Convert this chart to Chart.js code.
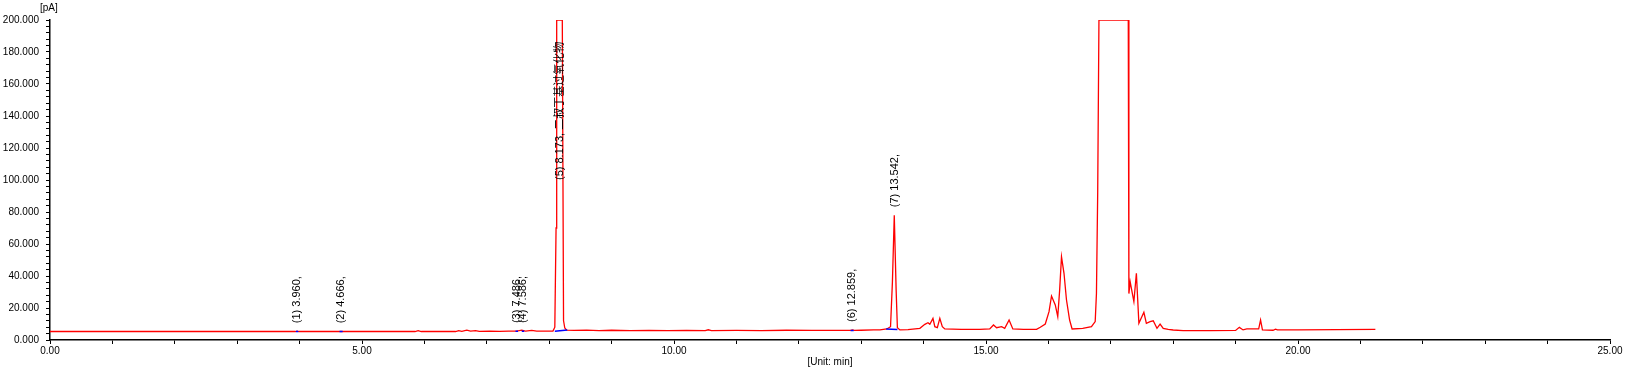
<!DOCTYPE html>
<html>
<head>
<meta charset="utf-8">
<script src="https://cdn.jsdelivr.net/npm/chart.js@4.4.1/dist/chart.umd.min.js"></script>
<style>
  html, body { margin: 0; padding: 0; background: #fff; }
  #wrap { width: 1626px; height: 374px; }
</style>
</head>
<body>
<div id="wrap"><canvas id="chrom" width="1626" height="374"></canvas></div>
<script>
// trace (min / pA)
const retentionTimes = [
  0.00, 1.00, 2.00, 3.00, 3.93, 3.96, 3.99, 4.64, 4.67, 4.70,
  5.85, 5.90, 5.95, 6.50, 6.55, 6.60, 6.68, 6.74, 6.82, 6.88,
  7.05, 7.20, 7.35, 7.48, 7.56, 7.62, 7.72, 7.80, 7.95, 8.06,
  8.09, 8.11, 8.12, 8.21, 8.23, 8.25, 8.28, 8.40, 8.60, 8.80,
  9.00, 9.30, 9.60, 9.90, 10.20, 10.50, 10.55, 10.60, 11.00, 11.40,
  11.80, 12.20, 12.50, 12.83, 12.86, 12.89, 13.00, 13.20, 13.30, 13.41,
  13.47, 13.50, 13.53, 13.56, 13.58, 13.62, 13.75, 13.94, 14.02, 14.07,
  14.10, 14.15, 14.18, 14.22, 14.26, 14.30, 14.34, 14.60, 14.90, 15.06,
  15.12, 15.17, 15.25, 15.30, 15.37, 15.43, 15.60, 15.81, 15.87, 15.95,
  16.01, 16.05, 16.11, 16.15, 16.18, 16.21, 16.25, 16.29, 16.34, 16.38,
  16.55, 16.69, 16.75, 16.77, 16.79, 16.81, 17.28, 17.29, 17.31, 17.37,
  17.41, 17.45, 17.53, 17.57, 17.63, 17.68, 17.74, 17.79, 17.84, 17.92,
  18.00, 18.16, 18.60, 19.00, 19.06, 19.12, 19.18, 19.30, 19.37, 19.40,
  19.43, 19.60, 19.64, 19.67, 20.00, 21.24
];
const signal = [
  5.3, 5.3, 5.3, 5.3, 5.3, 5.5, 5.3, 5.3, 5.4, 5.3,
  5.3, 5.8, 5.3, 5.3, 5.9, 5.4, 6.1, 5.5, 5.9, 5.4,
  5.5, 5.4, 5.6, 5.6, 6.2, 5.6, 6.0, 5.5, 5.5, 5.6,
  8.0, 70, 200, 200, 12, 7.5, 6.2, 6.0, 6.2, 5.8,
  6.1, 5.8, 6.0, 5.8, 6.0, 5.9, 6.4, 5.9, 6.0, 5.9,
  6.1, 6.0, 6.0, 6.0, 6.3, 6.0, 6.1, 6.3, 6.3, 6.9,
  8.3, 36, 78, 31, 7.7, 6.3, 6.5, 7.3, 9.8, 10.8,
  9.8, 13.5, 8.3, 7.7, 13.5, 8.3, 6.9, 6.7, 6.7, 6.9,
  9.4, 7.7, 8.3, 7.3, 12.5, 6.9, 6.7, 6.7, 8.0, 10,
  17.7, 27.5, 21.9, 14.6, 31, 52, 41.7, 25, 12.5, 6.9,
  7.3, 8.3, 11.5, 29, 92, 200, 200, 29, 36.4, 24,
  41.7, 10.4, 17.3, 10.4, 11.5, 12, 7.3, 10, 7.3, 6.6,
  6.25, 5.9, 5.9, 6.0, 7.9, 6.3, 6.9, 6.9, 7.0, 12.5,
  6.3, 6.1, 6.8, 6.3, 6.3, 6.6
];

// integrated peaks
const peakNo = [1, 2, 3, 4, 5, 6, 7];
const peakTime = [3.960, 4.666, 7.486, 7.586, 8.173, 12.859, 13.542];
const peakName = ['', '', '', '', '二叔丁基过氧化物', '', ''];
const peakHeight = [5.5, 5.4, 5.6, 5.6, 200, 6.3, 78];
const baseStart = [3.94, 4.64, 7.46, 7.56, 8.09, 12.83, 13.40];
const baseEnd = [3.98, 4.69, 7.50, 7.60, 8.29, 12.88, 13.58];
const baseFrom = [5.3, 5.3, 5.5, 5.5, 5.5, 6.0, 6.8];
const baseTo = [5.3, 5.3, 5.5, 5.5, 6.2, 6.0, 6.6];

const tracePts = retentionTimes.map((t, i) => ({ x: t, y: signal[i] }));
const basePts = [];
baseStart.forEach((s, i) => {
  basePts.push({ x: s, y: baseFrom[i] }, { x: baseEnd[i], y: baseTo[i] }, { x: baseEnd[i], y: null });
});

const FONT = '"Liberation Sans", Arial, sans-serif';

const peakLabels = {
  id: 'peakLabels',
  afterDatasetsDraw(chart) {
    const { ctx, scales: { x, y } } = chart;
    ctx.save();
    ctx.fillStyle = '#000';
    ctx.font = '11px ' + FONT + ', "Noto Sans CJK SC"';
    ctx.textAlign = 'left';
    ctx.textBaseline = 'middle';
    peakNo.forEach((n, i) => {
      const px = x.getPixelForValue(peakTime[i]);
      // label sits above the apex, but never starts above half scale
      const py = Math.max(y.getPixelForValue(peakHeight[i]) - 8, y.getPixelForValue(100));
      const txt = '(' + n + ') ' + peakTime[i].toFixed(3) + ',' + (peakName[i] ? ' ' + peakName[i] : '');
      ctx.save();
      ctx.translate(px, py);
      ctx.rotate(-Math.PI / 2);
      ctx.fillText(txt, 0, 0);
      ctx.restore();
    });
    ctx.font = '10px ' + FONT;
    ctx.textAlign = 'left';
    ctx.fillText('[pA]', 40, 8);
    ctx.textAlign = 'center';
    ctx.fillText('[Unit: min]', (x.left + x.right) / 2, 362);
    ctx.restore();
  }
};

new Chart(document.getElementById('chrom').getContext('2d'), {
  type: 'line',
  data: {
    datasets: [
      { data: basePts, borderColor: '#0000ff', borderWidth: 1.5, pointRadius: 0, spanGaps: false },
      { data: tracePts, borderColor: '#ff0000', borderWidth: 1.3, pointRadius: 0, tension: 0 }
    ]
  },
  options: {
    responsive: false,
    animation: false,
    events: [],
    layout: { padding: { top: 20, right: 16, left: 0, bottom: 0 } },
    plugins: { legend: { display: false }, tooltip: { enabled: false } },
    scales: {
      x: {
        type: 'linear', min: 0, max: 25,
        afterFit: s => { s.height = 34; },
        border: { color: '#000', width: 1.5 },
        grid: { drawOnChartArea: false, tickLength: 4, tickColor: '#000' },
        ticks: {
          stepSize: 1, autoSkip: false, maxRotation: 0, padding: 1,
          color: '#000', font: { family: FONT, size: 10 },
          callback: v => (v % 5 === 0 ? v.toFixed(2) : '')
        }
      },
      y: {
        min: 0, max: 200,
        afterFit: s => { s.width = 50; },
        border: { color: '#000', width: 1.5 },
        grid: { drawOnChartArea: false, tickLength: 4, tickColor: '#000' },
        ticks: {
          stepSize: 4, autoSkip: false, padding: 7,
          color: '#000', font: { family: FONT, size: 10 },
          callback: v => (v % 20 === 0 ? v.toFixed(3) : '')
        }
      }
    }
  },
  plugins: [peakLabels]
});
</script>
</body>
</html>
